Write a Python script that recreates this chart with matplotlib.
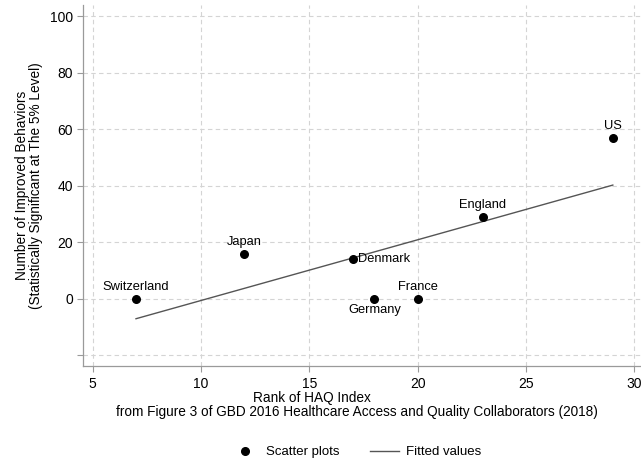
import matplotlib
matplotlib.use("Agg")
import matplotlib.pyplot as plt
import numpy as np
from matplotlib.lines import Line2D

plt.rcParams["font.family"] = ["Liberation Sans", "DejaVu Sans"]

# HAQ rank vs. number of improved behaviors
countries = ["Switzerland", "Japan", "Denmark", "Germany", "France", "England", "US"]
haq_rank = [7, 12, 17, 18, 20, 23, 29]
improved = [0, 16, 14, 0, 0, 29, 57]
label_pos = ["above", "above", "right", "below", "above", "above", "above"]

x_ticks = [5, 10, 15, 20, 25, 30]
y_ticks = [-20, 0, 20, 40, 60, 80, 100]
y_ticklabels = ["", "0", "20", "40", "60", "80", "100"]

AXIS_GRAY = "#9a9a9a"
GRID_GRAY = "#d4d4d4"
LINE_GRAY = "#555555"

fig = plt.figure(figsize=(6.41, 4.63), dpi=100)
ax = fig.add_axes([0.130, 0.2095, 0.870, 0.7795])

# OLS fit over the observed range
x = np.array(haq_rank, dtype=float)
y = np.array(improved, dtype=float)
slope, intercept = np.polyfit(x, y, 1)
xf = np.array([x.min(), x.max()])
ax.plot(xf, intercept + slope * xf, color=LINE_GRAY, lw=1.0, zorder=2)

ax.scatter(x, y, s=30, color="black", zorder=3)

for name, xi, yi, pos in zip(countries, x, y, label_pos):
    if pos == "above":
        ax.annotate(name, (xi, yi), xytext=(0, 4), textcoords="offset points",
                    ha="center", va="bottom", fontsize=9.3)
    elif pos == "below":
        ax.annotate(name, (xi, yi), xytext=(0, -4), textcoords="offset points",
                    ha="center", va="top", fontsize=9.3)
    else:
        ax.annotate(name, (xi, yi), xytext=(4, 0), textcoords="offset points",
                    ha="left", va="center", fontsize=9.3)

ax.set_xlim(4.57, 30.3)
ax.set_ylim(-23.8, 103.9)
ax.set_xticks(x_ticks)
ax.set_yticks(y_ticks)
ax.set_yticklabels(y_ticklabels)
ax.grid(True, color=GRID_GRAY, linestyle=(0, (4, 3)), lw=0.8)
ax.set_axisbelow(True)

for side in ["top", "right"]:
    ax.spines[side].set_visible(False)
for side in ["left", "bottom"]:
    ax.spines[side].set_color(AXIS_GRAY)
    ax.spines[side].set_linewidth(0.9)
ax.tick_params(colors=AXIS_GRAY, labelcolor="black", labelsize=10, length=4.5, width=0.8)
ax.tick_params(axis="y", labelrotation=0, pad=3)

ax.set_ylabel("Number of Improved Behaviors\n(Statistically Significant at The 5% Level)",
              fontsize=9.8, labelpad=5, linespacing=1.0)

fig.text(312 / 641, 1 - 398 / 463, "Rank of HAQ Index", ha="center", va="center", fontsize=9.8)
fig.text(357 / 641, 1 - 412 / 463,
         "from Figure 3 of GBD 2016 Healthcare Access and Quality Collaborators (2018)",
         ha="center", va="center", fontsize=9.8)

handles = [
    Line2D([], [], marker="o", color="black", linestyle="none", markersize=5.5),
    Line2D([], [], color=LINE_GRAY, lw=1.0),
]
fig.legend(handles, ["Scatter plots", "Fitted values"], loc="center",
           bbox_to_anchor=(356 / 641, 1 - 452 / 463), ncol=2, frameon=False,
           fontsize=9.5, handlelength=2.2, columnspacing=2.3, handletextpad=0.5)

fig.savefig("out.png", dpi=100)
